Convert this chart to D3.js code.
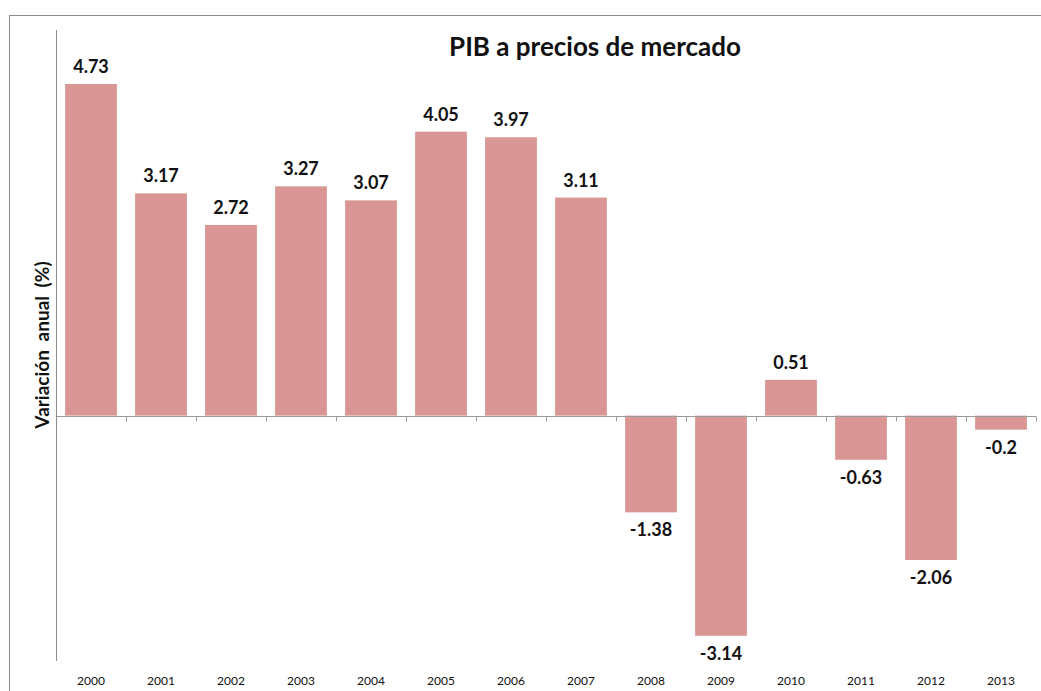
<!DOCTYPE html>
<html>
<head>
<meta charset="utf-8">
<script src="https://cdn.jsdelivr.net/npm/d3@7"></script>
<style>
    body { margin: 0; background: #fff; }
    svg { display: block; font-family: Lato, "Open Sans", sans-serif; }
</style>
</head>
<body>
<svg id="chart" width="1041" height="691"></svg>
<script>
// PIB a precios de mercado - annual variation (%)
const years = ['2000', '2001', '2002', '2003', '2004', '2005', '2006',
               '2007', '2008', '2009', '2010', '2011', '2012', '2013'];
const values = [4.73, 3.17, 2.72, 3.27, 3.07, 4.05, 3.97,
                3.11, -1.38, -3.14, 0.51, -0.63, -2.06, -0.2];
const yDomain = [-3.5, 5.5];

const svg = d3.select('#chart');

// Plot area
const plotLeft = 56, plotRight = 1036, plotTop = 30, plotBottom = 661;

const x = d3.scaleBand()
    .domain(years)
    .range([plotLeft, plotRight])
    .paddingInner(0.26)
    .paddingOuter(0.13);

const y = d3.scaleLinear()
    .domain(yDomain)
    .range([plotBottom, plotTop]);

// Outer chart frame (cropped on right/bottom)
svg.append('rect')
    .attr('x', 9.5)
    .attr('y', 15.5)
    .attr('width', 1100)
    .attr('height', 800)
    .attr('fill', 'none')
    .attr('stroke', '#8c8c8c')
    .attr('stroke-width', 1);

// Bars
svg.append('g')
    .selectAll('rect')
    .data(values)
    .join('rect')
    .attr('x', (d, i) => x(years[i]))
    .attr('y', d => y(Math.max(0, d)))
    .attr('width', x.bandwidth())
    .attr('height', d => Math.abs(y(d) - y(0)))
    .attr('fill', '#d99694');

// Zero line with ticks between categories
const zeroAxis = svg.append('g')
    .attr('transform', `translate(0,${Math.round(y(0)) + 0.5})`);

zeroAxis.append('line')
    .attr('x1', plotLeft)
    .attr('x2', plotRight)
    .attr('stroke', '#9a9a9a');

zeroAxis.selectAll('.tick')
    .data(years.slice(1).concat(['end']))
    .join('line')
    .attr('class', 'tick')
    .attr('x1', (d, i) => Math.round(plotLeft + (i + 1) * x.step()) + 0.5)
    .attr('x2', (d, i) => Math.round(plotLeft + (i + 1) * x.step()) + 0.5)
    .attr('y1', 0)
    .attr('y2', 5)
    .attr('stroke', '#9a9a9a');

// Y axis line
svg.append('line')
    .attr('x1', plotLeft + 0.5)
    .attr('x2', plotLeft + 0.5)
    .attr('y1', plotTop)
    .attr('y2', plotBottom)
    .attr('stroke', '#8c8c8c');

// Year labels below plot
svg.append('g')
    .selectAll('text')
    .data(years)
    .join('text')
    .attr('x', d => x(d) + x.bandwidth() / 2)
    .attr('y', 685)
    .attr('text-anchor', 'middle')
    .attr('font-size', '12px')
    .attr('fill', '#111')
    .text(d => d);

// Value labels
svg.append('g')
    .selectAll('text')
    .data(values)
    .join('text')
    .attr('x', (d, i) => x(years[i]) + x.bandwidth() / 2)
    .attr('y', d => d >= 0 ? y(d) - 11 : y(d) + 24)
    .attr('text-anchor', 'middle')
    .attr('font-size', '18px')
    .attr('font-weight', 'bold')
    .attr('fill', '#111')
    .text(d => d);

// Title
svg.append('text')
    .attr('x', 595)
    .attr('y', 56)
    .attr('text-anchor', 'middle')
    .attr('font-size', '26px')
    .attr('font-weight', 'bold')
    .attr('fill', '#111')
    .text('PIB a precios de mercado');

// Y axis title
svg.append('text')
    .attr('transform', 'translate(49,345) rotate(-90)')
    .attr('text-anchor', 'middle')
    .attr('font-size', '19px')
    .attr('font-weight', 'bold')
    .attr('fill', '#111')
    .style('word-spacing', '4px')
    .text('Variación anual (%)');
</script>
</body>
</html>
